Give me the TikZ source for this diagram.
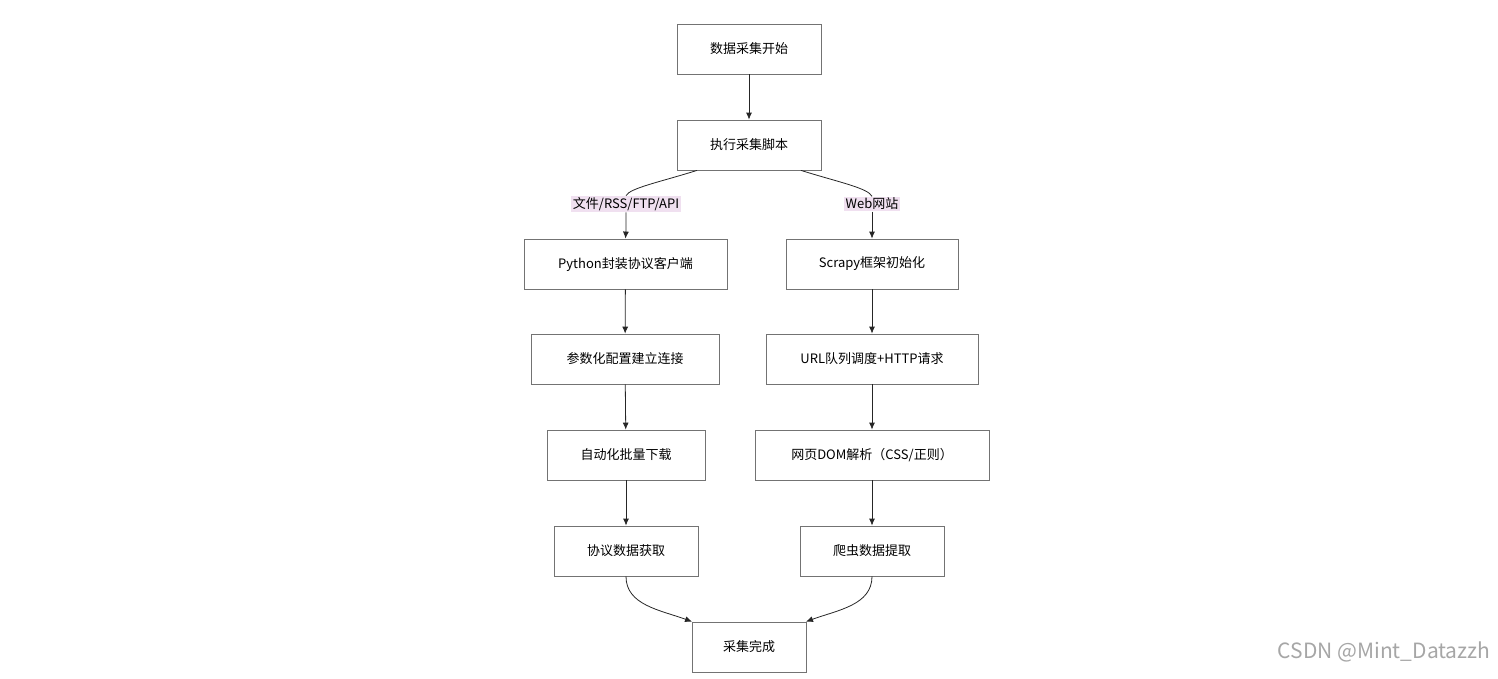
\documentclass[tikz,border=0pt]{standalone}
\usepackage{fontspec}
\setmainfont{Noto Sans CJK SC}
\usetikzlibrary{arrows.meta}
\begin{document}
\begin{tikzpicture}[x=1pt,y=-1pt,
 box/.style={draw=black!55,line width=0.8pt,fill=white,minimum height=50pt,inner sep=0pt,font=\fontsize{13}{15}\selectfont},
 lab/.style={fill=violet!12,inner sep=1.5pt,font=\fontsize{13}{15}\selectfont},
 arr/.style={-{Latex[length=7pt,width=6pt]},line width=0.8pt,black!85}]
\useasboundingbox (0,0) rectangle (1498,678);
\node[box,minimum width=144pt] (s) at (749,49) {数据采集开始};
\node[box,minimum width=144pt] (e) at (749,145) {执行采集脚本};
\node[lab] (l1) at (626,204) {文件/RSS/FTP/API};
\node[lab] (l2) at (872,204) {Web网站};
\node[box,minimum width=203pt] (p) at (625.5,264) {Python封装协议客户端};
\node[box,minimum width=172pt] (sc) at (872,264) {Scrapy框架初始化};
\node[box,minimum width=188pt] (pa) at (625,359) {参数化配置建立连接};
\node[box,minimum width=212pt] (u) at (872,359) {URL队列调度+HTTP请求};
\node[box,minimum width=158pt] (a) at (626,455) {自动化批量下载};
\node[box,minimum width=234pt] (d) at (872,455) {网页DOM解析（CSS/正则）};
\node[box,minimum width=144pt] (pr) at (626,551) {协议数据获取};
\node[box,minimum width=144pt] (c) at (872,551) {爬虫数据提取};
\node[box,minimum width=114pt] (f) at (749,647) {采集完成};
\node[text=black!35,font=\fontsize{21}{24}\selectfont,anchor=east] (w) at (1494,652) {CSDN @Mint\_Datazzh};
\draw[line width=0.8pt,black!85] ([xshift=-52pt]e.south) .. controls (660,182) and (630,188) .. (l1.north);
\draw[line width=0.8pt,black!85] ([xshift=52pt]e.south) .. controls (838,182) and (868,188) .. (l2.north);
\draw[arr] (l1.south) .. controls (626,222) and (626,230) .. (p.north);
\draw[arr] (l2.south) .. controls (872,222) and (872,230) .. (sc.north);
\draw[arr] (s) -- (e);
\draw[arr] (p) -- (pa); \draw[arr] (pa) -- (a); \draw[arr] (a) -- (pr);
\draw[arr] (sc) -- (u); \draw[arr] (u) -- (d); \draw[arr] (d) -- (c);
\draw[arr] (pr.south) .. controls (626,605) and (660,610) .. ([xshift=-57pt]f.north);
\draw[arr] (c.south) .. controls (872,605) and (838,610) .. ([xshift=57pt]f.north);
\end{tikzpicture}
\end{document}
